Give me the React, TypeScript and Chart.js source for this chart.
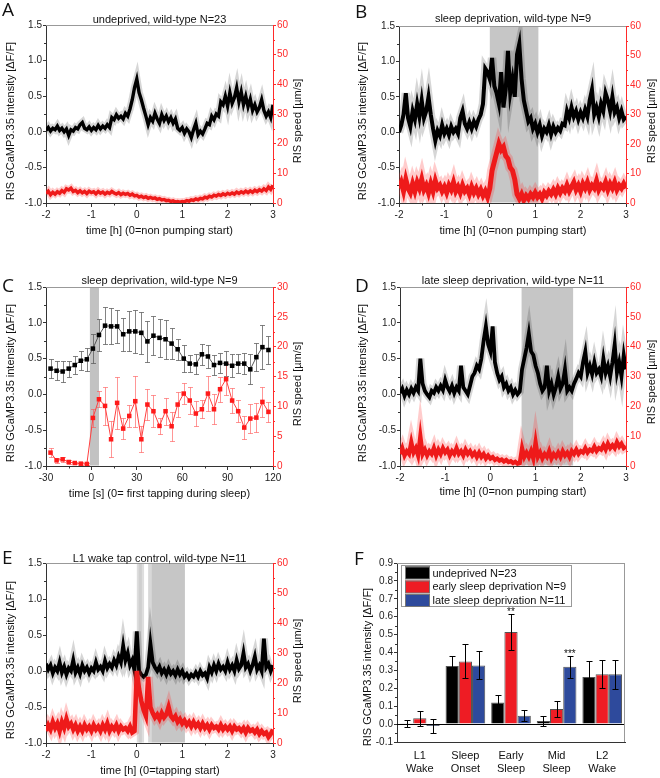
import React, { useEffect, useRef } from "react";
import { Chart, registerables } from "chart.js";

Chart.register(...registerables);

const W = 660;
const H = 778;
const FONT = '"Liberation Sans", Arial, Helvetica, sans-serif';
const LETTER_FONT = '"Open Sans", "DejaVu Sans", sans-serif';
const RED = "#ee1a1a";
const AXIS_RED = "#ff2a2a";
const YW = 30;
const RW = 30;
const XH = 24;

// ---------- data ----------
// sampling grid for the time traces (hours)
const HOURS = Array.from({ length: 101 }, (_, i) => Math.round((-2 + i * 0.05) * 100) / 100);

const A_GCAMP = [
  0.02, 0.06, 0.01, 0.05, 0.03, 0.08, 0.02, 0.05, 0.0, 0.04,
  -0.05, 0.03, 0.01, 0.06, 0.04, 0.1, 0.13, 0.05, 0.03, 0.07,
  0.02, 0.06, 0.03, 0.09, 0.04, 0.08, 0.05, 0.1, 0.06, 0.2,
  0.17, 0.24, 0.19, 0.22, 0.18, 0.26, 0.22, 0.32, 0.45, 0.62,
  0.74, 0.55, 0.45, 0.33, 0.22, 0.1, 0.2, 0.15, 0.26, 0.18,
  0.12, 0.24, 0.16, 0.22, 0.14, 0.2, 0.12, 0.18, 0.05, 0.02,
  0.06, -0.02, 0.04, 0.0, -0.08, 0.03, 0.12, -0.04, 0.01, -0.03,
  0.04, 0.12, 0.1, 0.22, 0.17, 0.25, 0.22, 0.42, 0.38, 0.5,
  0.36, 0.55, 0.4, 0.48, 0.62, 0.42, 0.56, 0.38, 0.5, 0.35,
  0.46, 0.3, 0.38, 0.28, 0.34, 0.45, 0.3, 0.22, 0.28, 0.2,
  0.38,
];
const A_SPEED = [
  3.2, 4.0, 2.8, 3.6, 3.0, 3.8, 3.3, 4.2, 3.6, 4.8,
  4.4, 5.0, 3.9, 4.3, 3.5, 4.1, 3.4, 3.9, 3.2, 4.0,
  3.5, 3.8, 3.1, 3.9, 3.3, 3.7, 3.0, 3.6, 3.2, 3.9,
  3.4, 3.0, 3.5, 2.8, 3.3, 2.9, 3.2, 2.6, 3.0, 2.4,
  2.6, 2.0, 2.3, 1.8, 2.1, 1.6, 1.9, 1.5, 1.7, 1.2,
  1.5, 1.0, 1.2, 0.8, 0.9, 0.5, 0.7, 0.3, 0.5, 0.3,
  0.5, 0.4, 0.8, 0.6, 1.1, 0.9, 1.4, 1.1, 1.6, 1.4,
  2.0, 1.7, 2.3, 2.0, 2.6, 2.3, 2.9, 2.5, 3.1, 2.7,
  3.3, 2.9, 3.4, 3.0, 3.7, 3.2, 3.8, 3.4, 4.0, 3.5,
  4.1, 3.6, 4.3, 3.8, 4.5, 4.0, 4.8, 4.2, 5.4, 4.6,
  6.0,
];
const B_GCAMP = [
  0.0, 0.1, 0.25, 0.55, 0.2, 0.08, 0.3, 0.18, 0.4, 0.22,
  0.45, 0.2, 0.3, 0.5, 0.25, 0.05, -0.12, 0.02, -0.05, 0.1,
  -0.02, 0.05, -0.04, 0.08, 0.0, 0.05, -0.02, 0.2, 0.3, 0.12,
  0.05, 0.14, 0.05, 0.15, 0.08, 0.18, 0.25, 0.4, 0.9, 0.85,
  0.75, 1.05, 0.65, 0.55, 0.4, 0.85, 0.35, 0.6, 1.15, 0.55,
  0.75, 0.5, 1.1, 1.25, 0.75, 0.45, 0.3, 0.15, 0.2, 0.05,
  0.12, 0.0, 0.1, -0.05, 0.05, 0.0, 0.1, -0.03, 0.08, 0.0,
  0.06, 0.02, 0.12, 0.1, 0.3, 0.2, 0.35, 0.22, 0.3, 0.18,
  0.28, 0.2, 0.32, 0.22, 0.45, 0.6, 0.25, 0.35, 0.22, 0.4,
  0.3, 0.55, 0.45, 0.3, 0.5, 0.28, 0.35, 0.2, 0.3, 0.18,
  0.22,
];
const B_SPEED = [
  5, 7, 4, 8, 5, 3.5, 6.5, 4, 7, 5,
  8, 4.5, 6, 3.5, 6.5, 4, 7.5, 5, 6, 4,
  5.5, 3.5, 6, 4.5, 7, 4, 5.5, 3.5, 6, 4,
  5, 3, 5.5, 3.5, 5, 3, 4.5, 2.5, 4, 2,
  5, 11, 14, 17, 20, 18, 19, 16, 15, 12,
  11, 8, 3, 1.5, 3, 1, 2.5, 1.5, 3, 2,
  3.5, 2, 3, 1.5, 3.5, 2.5, 4, 3, 4.5, 3,
  5, 3.5, 5, 4, 6, 4, 5.5, 7, 4.5, 6,
  4, 6.5, 5, 7, 4.5, 6, 5, 7.5, 4.5, 6,
  5, 7, 4.5, 6.5, 5, 7, 4.5, 6, 5, 6.5,
  5,
];
const D_GCAMP = [
  0.02, 0.08, -0.02, 0.06, 0.0, 0.08, 0.02, 0.1, 0.05, 0.5,
  0.15, 0.05, 0.0, -0.04, 0.05, 0.02, 0.1, 0.05, 0.12, 0.06,
  0.2, 0.1, 0.04, 0.12, 0.02, 0.1, 0.05, 0.4, 0.1, 0.05,
  0.0, 0.12, 0.25, 0.3, 0.4, 0.35, 0.5, 0.75, 0.95, 0.7,
  0.6, 0.95, 0.45, 0.3, 0.2, 0.25, 0.1, 0.15, 0.05, 0.1,
  0.0, 0.06, 0.0, 0.04, 0.35, 0.5, 0.65, 0.85, 0.6, 0.55,
  0.4, 0.3, 0.15, 0.05, 0.1, 0.4, 0.05, 0.15, 0.0, 0.1,
  0.25, 0.08, 0.15, 0.35, 0.05, 0.1, 0.05, 0.15, 0.22, 0.3,
  0.25, 0.45, 0.6, 0.3, 0.4, 0.28, 0.45, 0.3, 0.35, 0.25,
  0.5, 0.3, 0.4, 0.25, 0.45, 0.7, 0.3, 0.45, 0.25, 0.55,
  0.35,
];
const D_SPEED = [
  4, 6, 3.5, 5, 4, 8, 4.5, 6, 3.5, 10,
  4, 5.5, 3.5, 5, 4, 6, 3.5, 5.5, 4, 6,
  4.5, 5.5, 3.5, 5, 4, 6, 4, 5, 3.5, 5.5,
  4, 5, 3.5, 4.5, 3, 4.5, 3, 4, 2.5, 3.5,
  2.5, 3, 2, 2.5, 1.8, 2.2, 1.5, 2, 1.3, 1.6,
  1, 1.4, 0.8, 1, 6, 3, 4.5, 3, 5, 2.5,
  8, 3, 4.5, 2.5, 4, 3, 5, 2.5, 4, 3,
  4.5, 3, 5, 3.5, 4.5, 3, 5, 4, 5.5, 4,
  5, 4.5, 6, 4.5, 5.5, 5, 6.5, 5, 6, 5.5,
  7, 5.5, 7.5, 6, 7, 6, 8, 6.5, 7.5, 6,
  6.5,
];
const E_GCAMP = [
  0.1, 0.02, 0.08, -0.03, 0.05, 0.0, 0.12, -0.02, 0.06, -0.05,
  0.04, 0.0, 0.15, -0.02, 0.05, -0.04, 0.08, 0.0, 0.05, -0.03,
  0.04, 0.0, 0.12, 0.02, 0.06, 0.0, 0.14, 0.04, 0.1, 0.05,
  0.15, 0.08, 0.2, 0.12, 0.35, 0.15, 0.25, 0.08, 0.15, 0.0,
  0.55, 0.0, -0.05, -0.08, -0.05, 0.05, 0.38, 0.12, 0.05, 0.0,
  0.06, -0.03, 0.02, -0.05, 0.03, -0.04, 0.0, -0.06, 0.02, -0.05,
  0.0, -0.08, -0.04, -0.1, -0.05, -0.08, -0.02, -0.08, 0.0, -0.06,
  -0.03, -0.1, 0.05, -0.02, 0.08, 0.0, 0.1, 0.02, 0.06, 0.0,
  0.12, 0.02, 0.08, 0.0, 0.15, 0.03, 0.08, 0.25, 0.05, 0.1,
  0.0, 0.08, 0.2, 0.02, 0.08, 0.0, 0.45, 0.05, 0.1, 0.0,
  0.08,
];
const E_SPEED = [
  4, 6, 4.5, 7, 5, 6.5, 4, 7, 5, 8,
  5.5, 6.5, 4.5, 6, 4, 5.5, 4, 6, 4.5, 5.5,
  4, 6, 4.5, 5.5, 4, 6, 4.5, 6.5, 4, 5.5,
  4.5, 6, 4, 5.5, 4.5, 5, 4, 5.5, 3.5, 4,
  24, 18, 14, 11, 9, 22, 12, 10, 8.5, 9.5,
  8, 10, 8.5, 9.5, 12, 9, 8, 9, 7, 8,
  6.5, 7.5, 6, 7, 5.5, 7, 5.5, 6.5, 5, 6.5,
  5, 6, 4.5, 6, 5, 5.5, 4.5, 6, 4.5, 5.5,
  4.5, 5.5, 4, 5.5, 4.5, 5, 4, 5, 3.5, 5,
  4, 4.5, 3.5, 4.5, 3, 4, 3, 3.5, 2, 3,
  4.5,
];

const C_SECONDS = [
  -27, -23, -19, -15, -11, -7, -3, 1, 5, 9, 13, 17, 21, 25, 29, 33, 37, 41, 45,
  49, 53, 57, 61, 65, 69, 73, 77, 81, 85, 89, 93, 97, 101, 105, 109, 113, 117,
];
const C_GCAMP = [
  0.36, 0.33, 0.32, 0.36, 0.41, 0.47, 0.49, 0.64, 0.83, 0.96, 0.95, 0.95, 0.84,
  0.88, 0.88, 0.86, 0.74, 0.82, 0.79, 0.77, 0.71, 0.63, 0.5, 0.43, 0.42, 0.56,
  0.53, 0.41, 0.44, 0.43, 0.4, 0.43, 0.43, 0.35, 0.52, 0.66, 0.62,
];
const C_GCAMP_ERR = [
  0.135, 0.13, 0.14, 0.11, 0.12, 0.135, 0.16, 0.2, 0.23, 0.26, 0.25, 0.23, 0.23,
  0.28, 0.3, 0.29, 0.29, 0.27, 0.27, 0.27, 0.22, 0.15, 0.19, 0.12, 0.14, 0.145,
  0.16, 0.135, 0.14, 0.17, 0.16, 0.135, 0.145, 0.21, 0.2, 0.31, 0.19,
];
const C_SPEED = [
  2.24, 0.95, 1.12, 0.67, 0.5, 0.39, 0.34, 8.06, 11.19, 10.07, 4.48, 10.58, 6.27,
  8.39, 10.86, 4.48, 10.3, 9.18, 6.72, 9.18, 6.66, 10.3, 12.14, 10.97, 8.79, 9.51,
  12.14, 9.51, 12.87, 14.55, 10.97, 9.18, 6.44, 7.95, 8.11, 10.74, 9.07,
];
const C_SPEED_ERR = [
  0.8, 0.4, 0.4, 0.3, 0.2, 0.2, 0.2, 1.5, 1.3, 3.2, 3.0, 4.3, 1.8, 1.8, 4.3, 2.2,
  2.6, 2.7, 1.4, 2.3, 2.4, 2.1, 1.7, 2.3, 2.1, 1.5, 3.0, 2.5, 2.1, 2.7, 2.1, 1.8,
  1.9, 2.4, 2.4, 2.5, 1.7,
];

const F_CATEGORIES = [["L1", "Wake"], ["Sleep", "Onset"], ["Early", "Sleep"], ["Mid", "Sleep"], ["L2", "Wake"]];
const F_SERIES = ["undeprived N=23", "early sleep deprivation N=9", "late sleep deprivation N=11"];
const F_UNDEPRIVED = [0.005, 0.325, 0.12, 0.017, 0.263];
const F_UNDEPRIVED_ERR = [0.02, 0.055, 0.045, 0.03, 0.087];
const F_EARLY = [0.033, 0.35, 0.515, 0.084, 0.278];
const F_EARLY_ERR = [0.042, 0.095, 0.1, 0.045, 0.078];
const F_LATE = [-0.01, 0.328, 0.047, 0.32, 0.278];
const F_LATE_ERR = [0.037, 0.078, 0.03, 0.062, 0.08];
const F_COLORS = ["#000000", "#ee1c24", "#2e4a9c"];

const Y_TITLE = "RIS GCaMP3.35 intensity [\u0394F/F]";
const Y1_TITLE = "RIS speed [\u00b5m/s]";

// ---------- helpers ----------
type Box = { l: number; t: number; r: number; b: number };

function pad(box: Box, right = true) {
  return { left: box.l - YW, top: box.t, right: W - box.r - (right ? RW : 0), bottom: H - box.b - XH };
}

const tickFont = { family: FONT, size: 10 };

function xLinear(min: number, max: number, step: number) {
  return {
    type: "linear",
    position: "bottom",
    min,
    max,
    ticks: { font: tickFont, color: "#222", stepSize: step, padding: 2, maxRotation: 0, autoSkip: false, callback: (v: any) => String(v) },
    grid: { drawOnChartArea: false, tickLength: 4, tickColor: "#333" },
    border: { color: "#333", width: 1 },
    afterFit: (s: any) => { s.height = XH; },
  };
}
function yLeft(min: number, max: number, step: number) {
  return {
    type: "linear",
    position: "left",
    min,
    max,
    ticks: { font: tickFont, color: "#222", stepSize: step, padding: 1, callback: (v: any) => Number(v).toFixed(1) },
    grid: { drawOnChartArea: false, tickLength: 3, tickColor: "#333" },
    border: { color: "#333", width: 1 },
    afterFit: (s: any) => { s.width = YW; },
  };
}
function yRight(max: number, step: number) {
  return {
    type: "linear",
    position: "right",
    min: 0,
    max,
    ticks: { font: tickFont, color: AXIS_RED, stepSize: step, padding: 1, callback: (v: any) => String(v) },
    grid: { drawOnChartArea: false, tickLength: 3, tickColor: AXIS_RED },
    border: { color: AXIS_RED, width: 1 },
    afterFit: (s: any) => { s.width = RW; },
  };
}

type Txt = { text: string; x: number; y: number };
type Deco = {
  letter: Txt;
  title?: Txt;
  yTitle: { x: number; y: number };
  y1Title?: { x: number; y: number };
  xTitle?: Txt;
  shades?: { from: number; to: number; color: string }[];
  minor: { x?: number; y: number; y1?: number };
  before?: (chart: any) => void;
  after?: (chart: any) => void;
  last?: (chart: any) => void;
};

function minorTicks(ctx: any, scale: any, step: number, side: string, len: number, color: string, area: any) {
  const n = Math.round((scale.max - scale.min) / step);
  ctx.save();
  ctx.strokeStyle = color;
  ctx.lineWidth = 1;
  ctx.beginPath();
  for (let k = 1; k < n; k += 2) {
    const p = Math.round(scale.getPixelForValue(scale.min + k * step)) + 0.5;
    if (side === "left") { ctx.moveTo(area.left - len, p); ctx.lineTo(area.left, p); }
    else if (side === "right") { ctx.moveTo(area.right, p); ctx.lineTo(area.right + len, p); }
    else { ctx.moveTo(p, area.bottom); ctx.lineTo(p, area.bottom + len); }
  }
  ctx.stroke();
  ctx.restore();
}

function vText(ctx: any, text: string, x: number, y: number, color = "#111") {
  ctx.save();
  ctx.translate(x, y);
  ctx.rotate(-Math.PI / 2);
  ctx.fillStyle = color;
  ctx.font = `11px ${FONT}`;
  ctx.textAlign = "center";
  ctx.textBaseline = "middle";
  ctx.fillText(text, 0, 0);
  ctx.restore();
}

function decoPlugin(d: Deco) {
  return {
    id: "deco",
    beforeDatasetsDraw(chart: any) {
      const { ctx, chartArea: a, scales } = chart;
      if (d.shades) {
        ctx.save();
        for (const s of d.shades) {
          const x0 = scales.x.getPixelForValue(s.from);
          const x1 = scales.x.getPixelForValue(s.to);
          ctx.fillStyle = s.color;
          ctx.fillRect(x0, a.top + 1, x1 - x0, a.bottom - a.top - 1.5);
        }
        ctx.restore();
      }
      if (d.before) d.before(chart);
    },
    afterDatasetsDraw(chart: any) {
      if (d.after) d.after(chart);
    },
    afterDraw(chart: any) {
      const { ctx, chartArea: a, scales } = chart;
      ctx.save();
      ctx.strokeStyle = "#999";
      ctx.lineWidth = 1;
      ctx.beginPath();
      ctx.moveTo(a.left, Math.round(a.top) + 0.5);
      ctx.lineTo(a.right, Math.round(a.top) + 0.5);
      if (!scales.y1) {
        ctx.moveTo(Math.round(a.right) - 0.5, a.top);
        ctx.lineTo(Math.round(a.right) - 0.5, a.bottom);
      }
      ctx.stroke();
      if (d.minor.x) minorTicks(ctx, scales.x, d.minor.x, "bottom", 2.5, "#333", a);
      minorTicks(ctx, scales.y, d.minor.y, "left", 2, "#333", a);
      if (d.minor.y1 && scales.y1) minorTicks(ctx, scales.y1, d.minor.y1, "right", 2, AXIS_RED, a);
      ctx.fillStyle = "#111";
      ctx.font = `19px ${LETTER_FONT}`;
      ctx.textAlign = "left";
      ctx.textBaseline = "alphabetic";
      ctx.fillText(d.letter.text, d.letter.x, d.letter.y);
      ctx.font = `11px ${FONT}`;
      ctx.textAlign = "center";
      if (d.title) ctx.fillText(d.title.text, d.title.x, d.title.y);
      if (d.xTitle) ctx.fillText(d.xTitle.text, d.xTitle.x, d.xTitle.y);
      ctx.restore();
      vText(ctx, Y_TITLE, d.yTitle.x, d.yTitle.y);
      if (d.y1Title) vText(ctx, Y1_TITLE, d.y1Title.x, d.y1Title.y);
      if (d.last) d.last(chart);
    },
  };
}

function pairs(xs: number[], ys: number[]) {
  return xs.map((x, i) => ({ x, y: ys[i] }));
}

type Style = { bCore: number; bHalo: number; rCore: number; rHalo: number };

function traceDatasets(gcamp: number[], speed: number[], st: Style) {
  return [
    { label: "speed", data: pairs(HOURS, speed), yAxisID: "y1", borderColor: RED, borderWidth: st.rCore, pointRadius: 0, tension: 0, order: 0, borderJoinStyle: "miter" },
    { label: "speed sem", data: pairs(HOURS, speed), yAxisID: "y1", borderColor: "rgba(255,50,50,0.25)", borderWidth: st.rHalo, pointRadius: 0, tension: 0, order: 1 },
    { label: "gcamp", data: pairs(HOURS, gcamp), yAxisID: "y", borderColor: "#000", borderWidth: st.bCore, pointRadius: 0, tension: 0, order: 2, borderJoinStyle: "miter" },
    { label: "gcamp sem", data: pairs(HOURS, gcamp), yAxisID: "y", borderColor: "rgba(0,0,0,0.16)", borderWidth: st.bHalo, pointRadius: 0, tension: 0, order: 3 },
  ];
}

function traceChart(canvas: HTMLCanvasElement, box: Box, gcamp: number[], speed: number[], deco: Deco, st: Style) {
  return new Chart(canvas, {
    type: "line",
    data: { datasets: traceDatasets(gcamp, speed, st) as any },
    options: {
      animation: false,
      responsive: false,
      events: [],
      layout: { padding: pad(box) },
      plugins: { legend: { display: false }, title: { display: false }, tooltip: { enabled: false } },
      scales: { x: xLinear(-2, 3, 1), y: yLeft(-1, 1.5, 0.5), y1: yRight(60, 10) } as any,
    },
    plugins: [decoPlugin(deco)],
  } as any);
}

function errorBars(chart: any, dsIndex: number, axisId: string, values: number[], errs: number[], color: string, cap: number) {
  const meta = chart.getDatasetMeta(dsIndex);
  const ys = chart.scales[axisId];
  const ctx = chart.ctx;
  ctx.save();
  ctx.strokeStyle = color;
  ctx.lineWidth = 1;
  ctx.beginPath();
  meta.data.forEach((el: any, i: number) => {
    const x = Math.round(el.x) + 0.5;
    const y0 = Math.round(ys.getPixelForValue(values[i] + errs[i])) + 0.5;
    const y1 = Math.round(ys.getPixelForValue(values[i] - errs[i])) + 0.5;
    ctx.moveTo(x, y0); ctx.lineTo(x, y1);
    ctx.moveTo(x - cap, y0); ctx.lineTo(x + cap, y0);
    ctx.moveTo(x - cap, y1); ctx.lineTo(x + cap, y1);
  });
  ctx.stroke();
  ctx.restore();
}

// ---------- panels ----------
const BOX_A: Box = { l: 46, t: 25, r: 273, b: 203 };
const BOX_B: Box = { l: 399, t: 26, r: 626, b: 203 };
const BOX_C: Box = { l: 46, t: 287, r: 273, b: 466 };
const BOX_D: Box = { l: 400, t: 287, r: 626, b: 466 };
const BOX_E: Box = { l: 46, t: 563, r: 273, b: 743 };
const BOX_F: Box = { l: 397, t: 563, r: 625, b: 742 };

const makeA = (c: HTMLCanvasElement) =>
  traceChart(c, BOX_A, A_GCAMP, A_SPEED, {
    letter: { text: "A", x: 2, y: 16 },
    title: { text: "undeprived, wild-type N=23", x: 159.5, y: 22.5 },
    yTitle: { x: 11, y: 121 },
    y1Title: { x: 298, y: 121 },
    xTitle: { text: "time [h] (0=non pumping start)", x: 159.5, y: 233.5 },
    minor: { x: 0.5, y: 0.25, y1: 5 },
  }, { bCore: 3.4, bHalo: 7.5, rCore: 3.4, rHalo: 7 });

const makeB = (c: HTMLCanvasElement) =>
  traceChart(c, BOX_B, B_GCAMP, B_SPEED, {
    letter: { text: "B", x: 355, y: 18 },
    title: { text: "sleep deprivation, wild-type N=9", x: 513, y: 22 },
    yTitle: { x: 363, y: 121 },
    y1Title: { x: 652, y: 121 },
    xTitle: { text: "time [h] (0=non pumping start)", x: 513, y: 233.5 },
    shades: [{ from: 0, to: 1.07, color: "#c6c6c6" }],
    minor: { x: 0.5, y: 0.25, y1: 5 },
  }, { bCore: 4, bHalo: 8.5, rCore: 5, rHalo: 10 });

const makeD = (c: HTMLCanvasElement) =>
  traceChart(c, BOX_D, D_GCAMP, D_SPEED, {
    letter: { text: "D", x: 355, y: 292 },
    title: { text: "late sleep deprivation, wild-type N=11", x: 513, y: 284 },
    yTitle: { x: 363, y: 383 },
    y1Title: { x: 652, y: 382 },
    xTitle: { text: "time [h] (0=non pumping start)", x: 513, y: 495 },
    shades: [{ from: 0.69, to: 1.83, color: "#c6c6c6" }],
    minor: { x: 0.5, y: 0.25, y1: 5 },
  }, { bCore: 3.8, bHalo: 8, rCore: 4.2, rHalo: 9 });

const makeE = (c: HTMLCanvasElement) =>
  traceChart(c, BOX_E, E_GCAMP, E_SPEED, {
    letter: { text: "E", x: 2, y: 564 },
    title: { text: "L1 wake tap control, wild-type N=11", x: 159.5, y: 562 },
    yTitle: { x: 11, y: 660 },
    y1Title: { x: 298, y: 661 },
    xTitle: { text: "time [h] (0=tapping start)", x: 160, y: 774 },
    shades: [
      { from: 0, to: 0.16, color: "#dedede" },
      { from: 0.04, to: 0.11, color: "#cfcfcf" },
      { from: 0.25, to: 0.32, color: "#d8d8d8" },
      { from: 0.32, to: 1.06, color: "#c6c6c6" },
    ],
    minor: { x: 0.5, y: 0.25, y1: 5 },
  }, { bCore: 3.8, bHalo: 8, rCore: 4.5, rHalo: 9 });

const makeC = (c: HTMLCanvasElement) =>
  new Chart(c, {
    type: "line",
    data: {
      datasets: [
        {
          label: "speed",
          data: pairs(C_SECONDS, C_SPEED),
          yAxisID: "y1",
          borderColor: "#ff4040",
          borderWidth: 1,
          pointStyle: "rect",
          pointRadius: 3.2,
          pointBackgroundColor: "#ff1a1a",
          pointBorderWidth: 0,
          tension: 0,
          order: 0,
        },
        {
          label: "gcamp",
          data: pairs(C_SECONDS, C_GCAMP),
          yAxisID: "y",
          borderColor: "#555",
          borderWidth: 1,
          pointStyle: "rect",
          pointRadius: 3.2,
          pointBackgroundColor: "#000",
          pointBorderWidth: 0,
          tension: 0,
          order: 1,
        },
      ] as any,
    },
    options: {
      animation: false,
      responsive: false,
      events: [],
      layout: { padding: pad(BOX_C) },
      plugins: { legend: { display: false }, title: { display: false }, tooltip: { enabled: false } },
      scales: { x: xLinear(-30, 120, 30), y: yLeft(-1, 1.5, 0.5), y1: yRight(30, 5) } as any,
    },
    plugins: [
      decoPlugin({
        letter: { text: "C", x: 2, y: 292 },
        title: { text: "sleep deprivation, wild-type N=9", x: 159.5, y: 283.5 },
        yTitle: { x: 11, y: 383 },
        y1Title: { x: 298, y: 384 },
        xTitle: { text: "time [s] (0= first tapping during sleep)", x: 159.5, y: 496.5 },
        shades: [{ from: -1, to: 5, color: "#c2c2c2" }],
        minor: { x: 15, y: 0.25, y1: 2.5 },
        before: (chart) => {
          errorBars(chart, 1, "y", C_GCAMP, C_GCAMP_ERR, "rgba(90,90,90,0.75)", 2.5);
          errorBars(chart, 0, "y1", C_SPEED, C_SPEED_ERR, "rgba(255,80,80,0.6)", 2.5);
        },
      }),
    ],
  } as any);

const makeF = (c: HTMLCanvasElement) =>
  new Chart(c, {
    type: "bar",
    data: {
      labels: F_CATEGORIES,
      datasets: [F_UNDEPRIVED, F_EARLY, F_LATE].map((d, i) => ({
        label: F_SERIES[i],
        data: d,
        backgroundColor: F_COLORS[i],
        borderColor: "#555",
        borderWidth: 1,
        categoryPercentage: 0.87,
        barPercentage: 1,
      })),
    },
    options: {
      animation: false,
      responsive: false,
      events: [],
      layout: { padding: pad(BOX_F, false) },
      plugins: { legend: { display: false }, title: { display: false }, tooltip: { enabled: false } },
      scales: {
        x: {
          type: "category",
          ticks: { display: false },
          grid: { display: false },
          border: { color: "#333", width: 1 },
          afterFit: (s: any) => { s.height = XH; },
        },
        y: yLeft(-0.1, 0.9, 0.1),
      } as any,
    },
    plugins: [
      decoPlugin({
        letter: { text: "F", x: 354, y: 565 },
        yTitle: { x: 368, y: 667 },
        minor: { y: 0.05 },
        after: (chart) => {
          const { ctx, chartArea: a, scales } = chart;
          const y0 = Math.round(scales.y.getPixelForValue(0)) + 0.5;
          ctx.save();
          ctx.strokeStyle = "#000";
          ctx.lineWidth = 1;
          ctx.beginPath();
          ctx.moveTo(a.left, y0);
          ctx.lineTo(a.right, y0);
          ctx.stroke();
          ctx.restore();
          errorBars(chart, 0, "y", F_UNDEPRIVED, F_UNDEPRIVED_ERR, "#000", 3);
          errorBars(chart, 1, "y", F_EARLY, F_EARLY_ERR, "#000", 3);
          errorBars(chart, 2, "y", F_LATE, F_LATE_ERR, "#000", 3);
          const m1 = chart.getDatasetMeta(1).data[2];
          const m2 = chart.getDatasetMeta(2).data[3];
          ctx.save();
          ctx.fillStyle = "#111";
          ctx.font = `10px ${FONT}`;
          ctx.textAlign = "center";
          ctx.textBaseline = "alphabetic";
          ctx.fillText("**", m1.x, scales.y.getPixelForValue(0.643) + 5.5);
          ctx.fillText("***", m2.x, scales.y.getPixelForValue(0.408) + 5.5);
          ctx.restore();
        },
        last: (chart) => {
          const { ctx, scales } = chart;
          ctx.save();
          // category labels (two lines)
          ctx.fillStyle = "#111";
          ctx.font = `11px ${FONT}`;
          ctx.textAlign = "center";
          ctx.textBaseline = "alphabetic";
          F_CATEGORIES.forEach((lines, i) => {
            const x = scales.x.getPixelForTick(i);
            ctx.fillText(lines[0], x, 758.5);
            ctx.fillText(lines[1], x, 771.5);
          });
          // legend
          ctx.fillStyle = "#fff";
          ctx.strokeStyle = "#999";
          ctx.lineWidth = 1;
          ctx.fillRect(401.5, 565.5, 170, 41);
          ctx.strokeRect(401.5, 565.5, 170, 41);
          const tops = [566.5, 580.5, 594];
          const bases = [576.5, 590, 603.5];
          ctx.textAlign = "left";
          for (let i = 0; i < 3; i++) {
            ctx.fillStyle = F_COLORS[i];
            ctx.fillRect(405, tops[i], 25, 12.5);
            ctx.strokeStyle = "#777";
            ctx.strokeRect(405.5, tops[i] + 0.5, 24, 12);
            ctx.fillStyle = "#111";
            ctx.fillText(F_SERIES[i], 432.5, bases[i]);
          }
          ctx.restore();
        },
      }),
    ],
  } as any);

const MAKERS = [makeA, makeB, makeC, makeD, makeE, makeF];

function Panel({ make }: { make: (c: HTMLCanvasElement) => any }) {
  const ref = useRef<HTMLCanvasElement>(null);
  useEffect(() => {
    const chart = make(ref.current as HTMLCanvasElement);
    return () => chart.destroy();
  }, [make]);
  return <canvas ref={ref} width={W} height={H} style={{ position: "absolute", left: 0, top: 0, width: W, height: H }} />;
}

export default function App() {
  return (
    <div style={{ position: "absolute", left: 0, top: 0, width: W, height: H, background: "#fff", overflow: "hidden" }}>
      {MAKERS.map((m, i) => (
        <Panel key={i} make={m} />
      ))}
    </div>
  );
}
